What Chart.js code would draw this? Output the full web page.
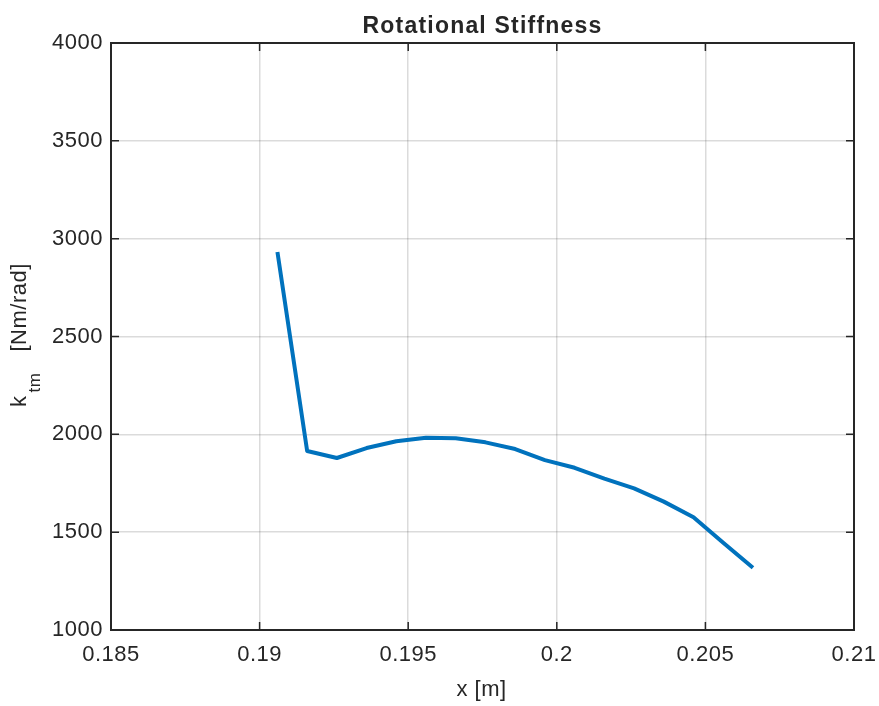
<!DOCTYPE html>
<html>
<head>
<meta charset="utf-8">
<script src="https://cdn.jsdelivr.net/npm/chart.js@4/dist/chart.umd.min.js"></script>
<style>
  html, body { margin: 0; padding: 0; background: #fff; }
  canvas { display: block; }
</style>
</head>
<body>
<canvas id="chart" width="879" height="706"></canvas>
<script>
const FONT = '"Liberation Sans", Arial, Helvetica, sans-serif';
const INK = "#262626";
const SPACING = "0.5px";

// position along the beam [m]
const xValues = [
  0.1906, 0.1916, 0.1926, 0.1936, 0.1946, 0.1956, 0.1966, 0.1976, 0.1986,
  0.1996, 0.2006, 0.2016, 0.2026, 0.2036, 0.2046, 0.2056, 0.2066,
];
// rotational stiffness k_tm [Nm/rad]
const kValues = [
  2932, 1915, 1879, 1930, 1965, 1983, 1980, 1959, 1925,
  1868, 1829, 1774, 1724, 1656, 1576, 1446, 1318,
];

const xTicks = [0.185, 0.19, 0.195, 0.2, 0.205, 0.21];
const yTicks = [1000, 1500, 2000, 2500, 3000, 3500, 4000];

const titleText = "Rotational Stiffness";
const xLabel = "x [m]";

function setSpacing(chart) {
  chart.ctx.letterSpacing = SPACING;
}

// box, inward ticks, title and axis labels drawn matlab-style
const axesDecor = {
  id: "axesDecor",
  beforeUpdate: setSpacing,
  beforeLayout: setSpacing,
  beforeDraw: setSpacing,
  afterDraw(chart) {
    const ctx = chart.ctx;
    const area = chart.chartArea;
    const xs = chart.scales.x;
    const ys = chart.scales.y;
    const tick = 8;

    ctx.save();
    ctx.strokeStyle = INK;
    ctx.lineWidth = 1.5;
    ctx.beginPath();
    xTicks.forEach((v) => {
      const px = xs.getPixelForValue(v);
      ctx.moveTo(px, area.bottom);
      ctx.lineTo(px, area.bottom - tick);
      ctx.moveTo(px, area.top);
      ctx.lineTo(px, area.top + tick);
    });
    yTicks.forEach((v) => {
      const py = ys.getPixelForValue(v);
      ctx.moveTo(area.left, py);
      ctx.lineTo(area.left + tick, py);
      ctx.moveTo(area.right, py);
      ctx.lineTo(area.right - tick, py);
    });
    ctx.stroke();

    ctx.lineWidth = 2;
    ctx.strokeRect(area.left, area.top, area.right - area.left, area.bottom - area.top);

    ctx.fillStyle = INK;
    const cx = (area.left + area.right) / 2;

    ctx.letterSpacing = "1.2px";
    ctx.font = "bold 23px " + FONT;
    ctx.textAlign = "center";
    ctx.textBaseline = "alphabetic";
    ctx.fillText(titleText, cx, 33);

    ctx.letterSpacing = SPACING;
    ctx.font = "22px " + FONT;
    ctx.fillText(xLabel, cx - 1, 696);

    // y label with subscript: k_tm [Nm/rad]
    ctx.translate(26, 407);
    ctx.rotate(-Math.PI / 2);
    ctx.textAlign = "left";
    ctx.font = "22px " + FONT;
    ctx.fillText("k", 0, 0);
    ctx.font = "17px " + FONT;
    ctx.fillText("tm", 14.5, 14);
    ctx.font = "22px " + FONT;
    ctx.fillText("[Nm/rad]", 55.5, 0);
    ctx.restore();
  },
};

new Chart(document.getElementById("chart"), {
  type: "line",
  data: {
    datasets: [
      {
        data: xValues.map((x, i) => ({ x: x, y: kValues[i] })),
        borderColor: "#0072BD",
        borderWidth: 4,
        borderCapStyle: "butt",
        borderJoinStyle: "round",
        pointRadius: 0,
        fill: false,
        tension: 0,
      },
    ],
  },
  options: {
    responsive: false,
    animation: false,
    layout: { padding: { left: 0, top: 43, right: 25, bottom: 0 } },
    plugins: {
      legend: { display: false },
      title: { display: false },
      tooltip: { enabled: false },
    },
    scales: {
      x: {
        type: "linear",
        min: 0.185,
        max: 0.21,
        afterBuildTicks: (scale) => {
          scale.ticks = xTicks.map((v) => ({ value: v }));
        },
        afterFit: (scale) => {
          scale.height = 76;
          scale.paddingLeft = 0;
          scale.paddingRight = 0;
        },
        grid: {
          color: "rgba(0,0,0,0.14)",
          lineWidth: 1.5,
          drawTicks: false,
        },
        border: { display: false },
        ticks: {
          padding: 12,
          color: INK,
          font: { family: FONT, size: 22 },
          callback: (v) => String(+Number(v).toFixed(3)),
        },
      },
      y: {
        type: "linear",
        min: 1000,
        max: 4000,
        afterBuildTicks: (scale) => {
          scale.ticks = yTicks.map((v) => ({ value: v }));
        },
        afterFit: (scale) => {
          scale.width = 111;
          scale.paddingTop = 0;
          scale.paddingBottom = 0;
        },
        grid: {
          color: "rgba(0,0,0,0.14)",
          lineWidth: 1.5,
          drawTicks: false,
        },
        border: { display: false },
        ticks: {
          padding: 8,
          color: INK,
          font: { family: FONT, size: 22 },
          callback: (v) => String(v),
        },
      },
    },
  },
  plugins: [axesDecor],
});
</script>
</body>
</html>
